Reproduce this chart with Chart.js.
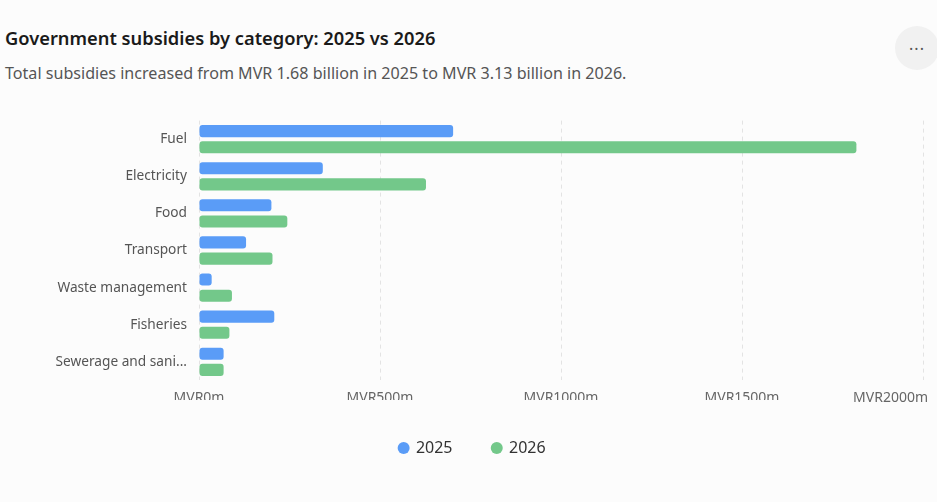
<!DOCTYPE html>
<html>
<head>
<meta charset="utf-8">
<script src="https://cdn.jsdelivr.net/npm/chart.js@4/dist/chart.umd.min.js"></script>
<style>
  html, body { margin: 0; padding: 0; background: #fcfcfc; }
  body { width: 937px; height: 502px; position: relative; overflow: hidden; font-family: "Noto Sans", sans-serif; }
  h1 { position: absolute; left: 5px; top: 25px; margin: 0; font-size: 18.3px; font-weight: 600; color: #1a1a1a; }
  p.sub { position: absolute; left: 5px; top: 62px; margin: 0; font-size: 16.1px; color: #555; }
  .more { position: absolute; left: 895px; top: 26px; width: 44px; height: 44px; border-radius: 50%; background: #f1f1f1;
          color: #555; font-size: 16px; line-height: 46px; text-align: center; letter-spacing: 1px; }
  .wrap { position: absolute; left: 0; top: 100px; width: 937px; height: 380px; }
</style>
</head>
<body>
<h1>Government subsidies by category: 2025 vs 2026</h1>
<p class="sub">Total subsidies increased from MVR 1.68 billion in 2025 to MVR 3.13 billion in 2026.</p>
<div class="more">···</div>
<div class="wrap"><canvas id="chart"></canvas></div>
<script>
const categories = ['Fuel', 'Electricity', 'Food', 'Transport', 'Waste management', 'Fisheries', 'Sewerage and sanitation'];
const values2025 = [702, 342, 200, 130, 35, 208, 68];
const values2026 = [1816, 627, 244, 203, 91, 84, 68];
const xTicks = [0, 500, 1000, 1500, 2000];

const blue = '#5a9cf7';
const green = '#73c88a';

function fmt(v){
    return 'MVR' + v + 'm';
}

function shortLabel(s){
    return s.length > 18 ? s.slice(0, 17) + '...' : s;
}

// last x tick is drawn by hand so it can be pulled inside the canvas,
// and the legend is nudged right to sit where the reference has it
const tweaks = {
    id: 'tweaks',
    afterLayout(chart){
        chart.legend.left += 11;
        chart.legend.right += 11;
    },
    afterDraw(chart){
        const s = chart.scales.x;
        const v = xTicks[xTicks.length - 1];
        const ctx = chart.ctx;
        ctx.save();
        ctx.font = '14px "Noto Sans"';
        ctx.fillStyle = '#666';
        ctx.textAlign = 'right';
        ctx.textBaseline = 'middle';
        ctx.fillText(fmt(v), s.getPixelForValue(v) + 5, s.top + 18);
        ctx.restore();
    }
};

let ctx = document.getElementById('chart');
let chart = new Chart(ctx, {
    type: 'bar',
    data: {
        labels: categories,
        datasets: [
            { label: '2025', data: values2025, backgroundColor: blue, borderRadius: 3, borderSkipped: false,
              categoryPercentage: 0.87, barPercentage: 0.75 },
            { label: '2026', data: values2026, backgroundColor: green, borderRadius: 3, borderSkipped: false,
              categoryPercentage: 0.87, barPercentage: 0.75 }
        ]
    },
    options: {
        indexAxis: 'y',
        responsive: true,
        maintainAspectRatio: false,
        animation: false,
        layout: { padding: { left: 0, right: 14, top: 20.6, bottom: 14 } },
        scales: {
            x: {
                min: 0,
                max: 2000,
                afterBuildTicks(scale){
                    scale.ticks = xTicks.map(v => ({ value: v }));
                },
                afterFit(scale){
                    scale.paddingRight = 0;
                    scale.height = 19.6;
                },
                grid: { color: '#e3e3e3', drawTicks: false, tickLength: 0 },
                border: { display: false, dash: [4, 4] },
                ticks: {
                    padding: 9,
                    color: '#666',
                    font: { family: 'Noto Sans', size: 14 },
                    callback: (v, i) => i === xTicks.length - 1 ? '' : fmt(v)
                }
            },
            y: {
                afterFit(scale){
                    scale.width = 199;
                },
                grid: { display: false },
                border: { display: false },
                ticks: {
                    padding: 4,
                    color: '#555',
                    font: { family: 'Noto Sans', size: 13.7 },
                    callback: function(v){ return shortLabel(this.getLabelForValue(v)); }
                }
            }
        },
        plugins: {
            legend: {
                position: 'bottom',
                labels: {
                    usePointStyle: true,
                    pointStyle: 'circle',
                    boxWidth: 8.5,
                    boxHeight: 8.5,
                    padding: 40,
                    color: '#333',
                    font: { family: 'Noto Sans', size: 16 }
                }
            },
            tooltip: { enabled: false }
        }
    },
    plugins: [tweaks]
});
</script>
</body>
</html>
